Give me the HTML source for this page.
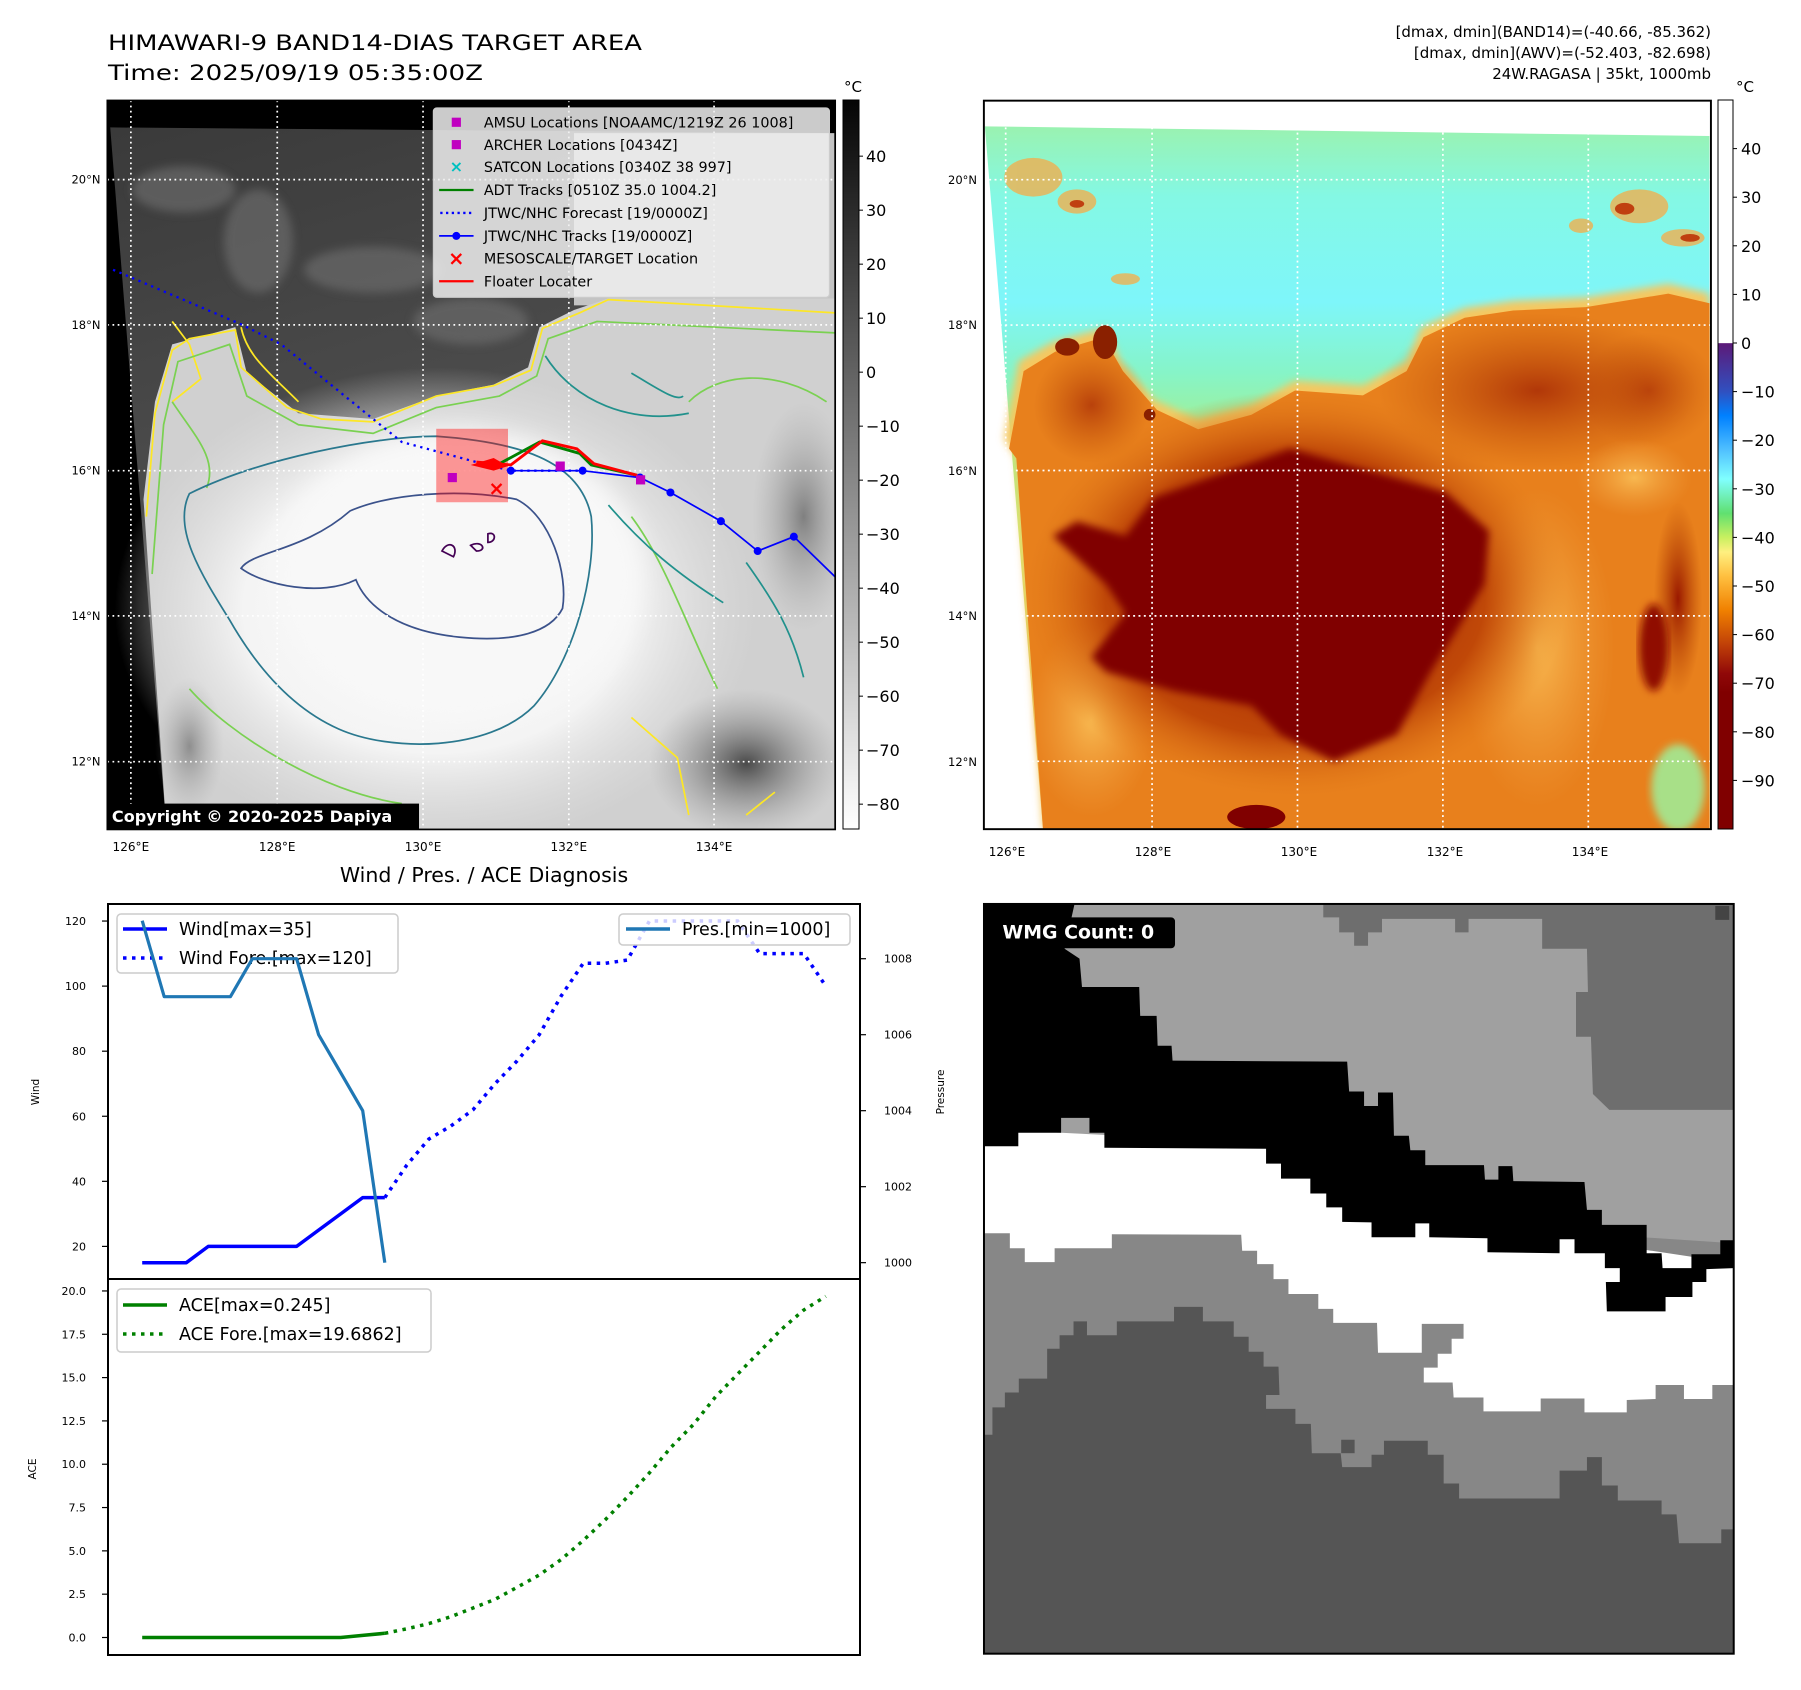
<!DOCTYPE html>
<html><head><meta charset="utf-8"><style>
html,body{margin:0;padding:0;background:#fff;}
svg{display:block;font-family:"DejaVu Sans","Liberation Sans",sans-serif;}
</style></head><body>
<svg id="root" width="1801" height="1690" viewBox="0 0 1801 1690" xmlns="http://www.w3.org/2000/svg">
<defs>
<linearGradient id="cb1" x1="0" y1="0" x2="0" y2="1"><stop offset="0" stop-color="#050505"/><stop offset="1" stop-color="#ffffff"/></linearGradient>
<linearGradient id="cb2" x1="0" y1="0" x2="0" y2="1">
<stop offset="0" stop-color="#ffffff"/><stop offset="0.333" stop-color="#ffffff"/>
<stop offset="0.334" stop-color="#5c1a78"/><stop offset="0.4" stop-color="#3050c0"/>
<stop offset="0.433" stop-color="#0080ff"/><stop offset="0.48" stop-color="#50c0ff"/>
<stop offset="0.52" stop-color="#80ffff"/><stop offset="0.567" stop-color="#60e070"/>
<stop offset="0.6" stop-color="#c8f060"/><stop offset="0.62" stop-color="#fff080"/>
<stop offset="0.653" stop-color="#ffc040"/><stop offset="0.7" stop-color="#f08000"/>
<stop offset="0.747" stop-color="#c04008"/><stop offset="0.787" stop-color="#900808"/>
<stop offset="0.813" stop-color="#800000"/><stop offset="1" stop-color="#800000"/></linearGradient>
<linearGradient id="m1top" x1="0" y1="0" x2="0.3" y2="1"><stop offset="0" stop-color="#3a3a3a"/><stop offset="0.5" stop-color="#4c4c4c"/><stop offset="1" stop-color="#6a6a6a"/></linearGradient>
<radialGradient id="m1core" cx="0.5" cy="0.5" r="0.5"><stop offset="0" stop-color="#fdfdfd"/><stop offset="0.6" stop-color="#f4f4f4"/><stop offset="1" stop-color="#e0e0e0" stop-opacity="0"/></radialGradient>
<radialGradient id="m1dark" cx="0.5" cy="0.5" r="0.5"><stop offset="0" stop-color="#4a4a4a"/><stop offset="1" stop-color="#9a9a9a" stop-opacity="0"/></radialGradient>
<linearGradient id="m2top" x1="0" y1="0" x2="0" y2="1"><stop offset="0" stop-color="#9af2b0"/><stop offset="0.1" stop-color="#84f8e4"/><stop offset="0.25" stop-color="#7ef6fa"/><stop offset="0.35" stop-color="#86f4c8"/><stop offset="0.45" stop-color="#a6f08c"/><stop offset="0.6" stop-color="#d8e870"/><stop offset="1" stop-color="#e8a040"/></linearGradient>
<radialGradient id="m2halo" cx="0.5" cy="0.5" r="0.5"><stop offset="0" stop-color="#a02000"/><stop offset="0.7" stop-color="#c04808"/><stop offset="1" stop-color="#e07818" stop-opacity="0"/></radialGradient>
<radialGradient id="m2light" cx="0.5" cy="0.5" r="0.5"><stop offset="0" stop-color="#f8b850"/><stop offset="1" stop-color="#f0a040" stop-opacity="0"/></radialGradient>
<radialGradient id="m2dk" cx="0.5" cy="0.5" r="0.5"><stop offset="0" stop-color="#9a1800"/><stop offset="1" stop-color="#b04000" stop-opacity="0"/></radialGradient>
<filter id="blur8"><feGaussianBlur stdDeviation="8"/></filter>
<filter id="blur20"><feGaussianBlur stdDeviation="20"/></filter>
<clipPath id="clip1"><rect x="187" y="175" width="1268" height="1270"/></clipPath>
<clipPath id="clip2"><rect x="8" y="22" width="1500" height="1503"/></clipPath>
</defs>

<text x="108" y="50" font-size="21.5" textLength="534" lengthAdjust="spacingAndGlyphs">HIMAWARI-9 BAND14-DIAS TARGET AREA</text>
<text x="108" y="80" font-size="21.5" textLength="375" lengthAdjust="spacingAndGlyphs">Time: 2025/09/19 05:35:00Z</text>
<text x="1711" y="37" font-size="15" text-anchor="end">[dmax, dmin](BAND14)=(-40.66, -85.362)</text>
<text x="1711" y="58" font-size="15" text-anchor="end">[dmax, dmin](AWV)=(-52.403, -82.698)</text>
<text x="1711" y="79" font-size="15" text-anchor="end">24W.RAGASA | 35kt, 1000mb</text>

<g transform="scale(0.574)">
<g clip-path="url(#clip1)">
<rect x="187" y="175" width="1268" height="1270" fill="#000"/>
<polygon points="192,222 1455,232 1455,1445 290,1445" fill="url(#m1top)"/>
<g fill="#6a6a6a" opacity="0.7" filter="url(#blur8)"><ellipse cx="320" cy="330" rx="90" ry="40"/><ellipse cx="450" cy="420" rx="60" ry="90"/><ellipse cx="650" cy="470" rx="120" ry="40"/><ellipse cx="820" cy="560" rx="100" ry="40"/></g>
<rect x="1000" y="232" width="455" height="300" fill="#c4c4c4"/>
<path d="M250,870 L270,700 L300,600 L410,570 L430,650 L520,720 L650,730 L760,690 L860,670 L920,640 L940,570 L1000,540 L1060,520 L1455,520 L1455,1445 L290,1445 Z" fill="#d0d0d0"/>
<ellipse cx="760" cy="1060" rx="560" ry="420" fill="url(#m1core)"/>
<ellipse cx="800" cy="1000" rx="320" ry="250" fill="#f8f8f8" filter="url(#blur20)"/>
<ellipse cx="1300" cy="1330" rx="170" ry="130" fill="url(#m1dark)"/>
<ellipse cx="1400" cy="900" rx="90" ry="200" fill="url(#m1dark)" opacity="0.6"/>
<ellipse cx="330" cy="1300" rx="60" ry="120" fill="url(#m1dark)" opacity="0.5"/>
<g fill="none" stroke-width="3">
<path d="M255,900 L270,720 L300,610 L330,590 L410,575 L420,640 L500,710 L560,730 L650,735 L760,690 L860,672 L925,645 L945,572 L1010,545 L1060,522 L1455,545" stroke="#fde725"/>
<path d="M300,560 L330,600 L350,660 L300,700 M420,570 C430,620 470,650 520,700 M1100,1250 L1180,1320 L1200,1420 M1350,1380 L1300,1420" stroke="#fde725"/>
<path d="M265,1000 L285,740 L310,630 L400,600 L430,690 L520,740 L650,755 L760,710 L870,690 L935,655 L955,590 L1040,560 L1455,580" stroke="#7ad151"/>
<path d="M330,1200 C400,1280 560,1380 700,1400 M1100,900 C1160,980 1200,1100 1250,1200 M1200,700 C1250,650 1350,640 1440,700 M300,700 C340,760 380,800 360,850" stroke="#7ad151"/>
<path d="M330,860 C450,800 650,760 760,760 C900,770 1010,800 1030,900 C1040,1000 1000,1150 930,1230 C850,1310 680,1310 590,1270 C500,1230 440,1150 400,1080 C350,1000 300,920 330,860 Z" stroke="#2a788e"/>
<path d="M950,620 C1000,700 1100,740 1200,720 M1060,880 C1120,950 1180,1000 1260,1050 M1100,650 C1150,680 1180,700 1190,690 M1300,980 C1350,1050 1380,1100 1400,1180" stroke="#21918c"/>
<path d="M610,890 C680,860 800,850 900,870 C960,900 990,1000 980,1060 C960,1100 900,1120 800,1110 C700,1100 640,1060 620,1010 C560,1040 460,1020 420,990 C440,960 530,960 610,890 Z" stroke="#3b528b"/>
<path d="M770,960 C780,940 800,950 790,970 Z M820,950 C840,940 850,960 830,960 Z M850,930 C865,925 865,945 850,945 Z" stroke="#440154"/>
</g>
<g stroke="#fff" stroke-width="3" stroke-dasharray="3,6">
<line x1="228" y1="175" x2="228" y2="1445"/><line x1="483" y1="175" x2="483" y2="1445"/><line x1="737" y1="175" x2="737" y2="1445"/><line x1="991" y1="175" x2="991" y2="1445"/><line x1="1244" y1="175" x2="1244" y2="1445"/>
<line x1="187" y1="313" x2="1455" y2="313"/><line x1="187" y1="566" x2="1455" y2="566"/><line x1="187" y1="820" x2="1455" y2="820"/><line x1="187" y1="1073" x2="1455" y2="1073"/><line x1="187" y1="1327" x2="1455" y2="1327"/>
</g>
<rect x="760" y="747" width="125" height="128" fill="rgba(255,0,0,0.4)"/>
<polyline points="197,470 420,565 490,600 650,730 700,770 830,805 890,820 1015,820" fill="none" stroke="#0000ff" stroke-width="4" stroke-dasharray="4,8"/>
<polyline points="870,808 940,770 1010,790 1030,810 1110,828" fill="none" stroke="#008000" stroke-width="5"/>
<polyline points="890,820 1015,820 1115,832 1168,858 1256,908 1320,960 1383,935 1455,1005" fill="none" stroke="#0000ff" stroke-width="3"/>
<g fill="#0000ff"><circle cx="890" cy="820" r="7"/><circle cx="1015" cy="820" r="7"/><circle cx="1115" cy="832" r="7"/><circle cx="1168" cy="858" r="7"/><circle cx="1256" cy="908" r="7"/><circle cx="1320" cy="960" r="7"/><circle cx="1383" cy="935" r="7"/></g>
<polyline points="830,805 890,810 945,768 1005,782 1035,808 1110,828" fill="none" stroke="#ff0000" stroke-width="5"/>
<polygon points="820,810 860,798 885,812 860,820" fill="#ff0000"/>
<g fill="#c000c0"><rect x="780" y="824" width="16" height="16"/><rect x="968" y="804" width="16" height="16"/><rect x="1108" y="828" width="16" height="16"/></g>
<text x="865" y="862" font-size="34" font-weight="bold" fill="#ff0000" text-anchor="middle">×</text>
<g>
<rect x="755" y="188" width="690" height="330" rx="6" fill="rgba(238,238,238,0.85)" stroke="#cccccc" stroke-width="2"/>
<g font-size="25">
<rect x="787" y="205" width="16" height="16" fill="#c000c0"/><text x="843" y="222">AMSU Locations [NOAAMC/1219Z 26 1008]</text>
<rect x="787" y="244" width="16" height="16" fill="#c000c0"/><text x="843" y="261">ARCHER Locations [0434Z]</text>
<text x="795" y="300" fill="#00c0c0" font-size="28" text-anchor="middle" font-weight="bold">×</text><text x="843" y="300">SATCON Locations [0340Z 38 997]</text>
<line x1="765" y1="331" x2="825" y2="331" stroke="#008000" stroke-width="4"/><text x="843" y="340">ADT Tracks [0510Z 35.0 1004.2]</text>
<line x1="767" y1="371" x2="825" y2="371" stroke="#0000ff" stroke-width="4" stroke-dasharray="4,6"/><text x="843" y="380">JTWC/NHC Forecast [19/0000Z]</text>
<line x1="765" y1="411" x2="825" y2="411" stroke="#0000ff" stroke-width="3"/><circle cx="795" cy="411" r="7" fill="#0000ff"/><text x="843" y="420">JTWC/NHC Tracks [19/0000Z]</text>
<text x="795" y="462" fill="#ff0000" font-size="34" text-anchor="middle" font-weight="bold">×</text><text x="843" y="459">MESOSCALE/TARGET Location</text>
<line x1="765" y1="490" x2="825" y2="490" stroke="#ff0000" stroke-width="4"/><text x="843" y="499">Floater Locater</text>
</g></g>
<rect x="187" y="1400" width="543" height="45" fill="#000"/>
<text x="195" y="1432" font-size="28" font-weight="bold" fill="#fff">Copyright © 2020-2025 Dapiya</text>
</g>
<rect x="187" y="175" width="1268" height="1270" fill="none" stroke="#000" stroke-width="3"/>
<g font-size="20" text-anchor="end">
<text x="175" y="320">20°N</text><text x="175" y="573">18°N</text><text x="175" y="827">16°N</text><text x="175" y="1080">14°N</text><text x="175" y="1334">12°N</text></g>
<g font-size="21" text-anchor="middle">
<text x="228" y="1483">126°E</text><text x="483" y="1483">128°E</text><text x="737" y="1483">130°E</text><text x="991" y="1483">132°E</text><text x="1244" y="1483">134°E</text></g>
</g>

<rect x="843" y="100" width="16" height="729" fill="url(#cb1)" stroke="#000" stroke-width="1"/>
<text x="853" y="92" font-size="15" text-anchor="middle">°C</text>
<g id="cb1ticks" font-size="16"></g>

<g transform="translate(980,90) scale(0.4847)">
<g clip-path="url(#clip2)">
<rect x="8" y="22" width="1500" height="1503" fill="#fff"/>
<polygon points="10,75 1505,95 1505,1525 130,1525" fill="url(#m2top)"/>
<g fill="#f0b050" opacity="0.8"><ellipse cx="110" cy="180" rx="60" ry="40"/><ellipse cx="200" cy="230" rx="40" ry="25"/><ellipse cx="1360" cy="240" rx="60" ry="35"/><ellipse cx="1450" cy="305" rx="45" ry="18"/><ellipse cx="1240" cy="280" rx="25" ry="15"/><ellipse cx="300" cy="390" rx="30" ry="12"/></g>
<g fill="#c04010"><ellipse cx="1330" cy="245" rx="20" ry="12"/><ellipse cx="1465" cy="305" rx="20" ry="8"/><ellipse cx="200" cy="235" rx="15" ry="8"/></g>
<path d="M50,720 L80,560 L150,520 L260,490 L290,560 L360,640 L450,680 L560,650 L650,600 L790,610 L880,560 L910,490 L1000,450 L1100,435 L1250,428 L1360,410 L1420,400 L1505,420 L1505,1525 L130,1525 L75,760 Z" fill="#f5c860" filter="url(#blur8)"/>
<path d="M60,740 L90,580 L155,540 L255,510 L295,580 L365,660 L450,700 L560,670 L650,620 L790,630 L880,580 L915,510 L1000,470 L1100,455 L1250,448 L1360,430 L1420,420 L1505,440 L1505,1525 L130,1525 L75,760 Z" fill="#e8801c"/>
<ellipse cx="1150" cy="620" rx="330" ry="160" fill="url(#m2dk)" opacity="0.7"/>
<ellipse cx="1380" cy="620" rx="140" ry="120" fill="url(#m2dk)" opacity="0.5"/>
<ellipse cx="230" cy="650" rx="120" ry="120" fill="url(#m2dk)" opacity="0.6"/>
<ellipse cx="230" cy="1300" rx="130" ry="200" fill="url(#m2light)"/>
<ellipse cx="1150" cy="1150" rx="160" ry="330" fill="url(#m2light)"/>
<ellipse cx="1350" cy="800" rx="120" ry="80" fill="url(#m2light)"/>
<ellipse cx="1440" cy="1440" rx="55" ry="90" fill="#a8e088" filter="url(#blur8)"/>
<ellipse cx="1440" cy="1050" rx="50" ry="200" fill="url(#m2dk)"/>
<ellipse cx="1390" cy="1150" rx="30" ry="90" fill="#901000" filter="url(#blur8)"/>
<ellipse cx="650" cy="1040" rx="560" ry="420" fill="url(#m2halo)"/>
<path transform="translate(0,40)" d="M360,800 L500,750 L640,700 L820,750 L960,790 L1050,870 L1040,980 L980,1080 L930,1160 L860,1290 L730,1345 L620,1290 L560,1230 L400,1200 L260,1160 L230,1130 L300,1040 L260,980 L150,880 L200,850 L300,880 Z" fill="#800000" filter="url(#blur8)"/>
<ellipse cx="570" cy="1500" rx="60" ry="25" fill="#800000"/>
<g fill="#8a2000"><ellipse cx="180" cy="530" rx="25" ry="18"/><ellipse cx="258" cy="520" rx="25" ry="35"/><ellipse cx="350" cy="670" rx="12" ry="12"/></g>
<g stroke="#fff" stroke-width="3.5" stroke-dasharray="4,7">
<line x1="53" y1="22" x2="53" y2="1525"/><line x1="355" y1="22" x2="355" y2="1525"/><line x1="655" y1="22" x2="655" y2="1525"/><line x1="955" y1="22" x2="955" y2="1525"/><line x1="1255" y1="22" x2="1255" y2="1525"/>
<line x1="8" y1="185" x2="1508" y2="185"/><line x1="8" y1="485" x2="1508" y2="485"/><line x1="8" y1="785" x2="1508" y2="785"/><line x1="8" y1="1085" x2="1508" y2="1085"/><line x1="8" y1="1385" x2="1508" y2="1385"/>
</g>
</g>
<rect x="8" y="22" width="1500" height="1503" fill="none" stroke="#000" stroke-width="4"/>
</g>
<g font-size="11.5" text-anchor="end">
<text x="977" y="184">20°N</text><text x="977" y="329">18°N</text><text x="977" y="475">16°N</text><text x="977" y="620">14°N</text><text x="977" y="766">12°N</text></g>
<g font-size="12" text-anchor="middle">
<text x="1007" y="856">126°E</text><text x="1153" y="856">128°E</text><text x="1299" y="856">130°E</text><text x="1445" y="856">132°E</text><text x="1590" y="856">134°E</text></g>

<rect x="1718" y="100" width="15" height="729" fill="url(#cb2)" stroke="#000" stroke-width="1"/>
<text x="1745" y="92" font-size="15" text-anchor="middle">°C</text>
<g id="cb2ticks" font-size="16"></g>

<text x="484" y="882" font-size="20.5" text-anchor="middle">Wind / Pres. / ACE Diagnosis</text>
<g id="windChart"></g>
<g id="aceChart"></g>

<g transform="translate(980,895) scale(0.4975)">
<rect x="8" y="18" width="1507" height="1507" fill="#a0a0a0"/>
<polygon points="690,18 1515,18 1515,432 1265,432 1232,400 1228,285 1198,285 1198,195 1222,195 1220,108 1130,108 1130,48 982,48 982,75 955,75 955,48 808,48 808,75 780,75 780,102 752,102 752,75 722,75 722,45 690,45" fill="#6e6e6e"/>
<rect x="1478" y="22" width="28" height="28" fill="#444"/>
<polygon points="8,600 1515,700 1515,1525 8,1525" fill="#878787"/>
<polygon points="8,470 600,500 1250,700 1515,740 1515,985 1472,985 1472,1013 1415,1013 1415,985 1358,985 1358,1013 1300,1015 1300,1040 1215,1040 1215,1012 1127,1012 1127,1038 1012,1038 1012,1010 952,1010 950,980 892,980 892,950 920,950 920,922 948,922 948,892 972,892 972,862 888,862 888,920 800,920 798,860 710,860 710,832 680,832 680,802 620,802 620,772 590,772 590,742 557,742 557,715 527,715 525,683 265,682 265,710 150,710 150,738 90,738 90,710 60,710 60,680 8,680" fill="#fff"/>
<polygon points="8,18 190,18 170,108 200,128 205,185 320,185 322,243 355,243 357,303 385,303 387,333 738,335 742,395 772,395 772,424 800,424 800,397 830,397 832,484 862,484 865,513 895,513 895,543 1013,543 1015,572 1042,572 1042,545 1070,545 1072,575 1215,577 1220,633 1250,633 1250,663 1340,663 1340,720 1370,720 1372,750 1430,750 1430,722 1488,722 1488,694 1515,694 1515,750 1460,752 1460,778 1432,778 1432,808 1378,808 1378,837 1260,837 1258,778 1286,778 1286,750 1256,750 1256,720 1195,720 1195,692 1165,692 1165,720 1020,718 1020,690 903,688 903,660 875,660 875,688 787,688 787,658 728,657 728,628 696,628 696,600 664,600 664,570 605,570 605,540 575,540 575,510 250,508 250,478 220,478 220,448 163,448 163,478 77,478 77,505 8,505" fill="#000"/>
<polygon points="8,1085 25,1085 25,1030 50,1030 50,1000 78,1000 78,972 135,972 135,912 160,912 160,885 188,885 188,857 215,857 215,885 275,885 275,857 390,857 390,828 448,828 448,857 510,857 510,888 540,888 540,918 570,918 570,948 600,948 602,1005 575,1005 575,1033 634,1033 634,1063 665,1063 667,1122 725,1122 728,1150 787,1150 787,1125 812,1125 812,1097 900,1097 900,1125 932,1125 932,1183 963,1183 963,1213 1165,1213 1165,1157 1220,1157 1220,1130 1250,1130 1250,1187 1282,1187 1282,1217 1370,1217 1370,1245 1400,1245 1405,1303 1490,1303 1490,1275 1515,1275 1515,1525 8,1525" fill="#555555"/>
<rect x="726" y="1095" width="27" height="27" fill="#555"/>
<rect x="32" y="45" width="360" height="62" rx="8" fill="#000"/>
<text x="45" y="87" font-size="38" font-weight="bold" fill="#fff">WMG Count: 0</text>
<rect x="8" y="18" width="1507" height="1507" fill="none" stroke="#000" stroke-width="4"/>
</g>
</svg>
<script>
const timeIdx = [0,1,2,3,4,5,6,7,8,9,10,11,12,13,14,15,16,17,18,19,20,21,22,23,24,25,26,27,28,29,30,31];
const windObs = [15,15,15,20,20,20,20,20,25,30,35,35];
const windFore = [35,45,53,57,62,70,77,85,97,107,107,108,120,120,120,120,120,110,110,110,100];
const presObs = [1009,1007,1007,1007,1007,1008,1008,1008,1006,1005,1004,1000];
const aceObs = [0,0,0,0,0,0,0,0,0,0,0.12,0.245];
const aceFore = [0.245,0.5,0.8,1.2,1.7,2.2,2.9,3.6,4.5,5.6,6.8,8.1,9.5,11.0,12.3,13.9,15.2,16.5,17.8,18.9,19.69];
const foreStart = 11;
const windTicks = [20,40,60,80,100,120];
const presTicks = [1000,1002,1004,1006,1008];
const aceTicks = [0,2.5,5,7.5,10,12.5,15,17.5,20];
const cb1Ticks = [40,30,20,10,0,-10,-20,-30,-40,-50,-60,-70,-80];
const cb2Ticks = [40,30,20,10,0,-10,-20,-30,-40,-50,-60,-70,-80,-90];

const NS='http://www.w3.org/2000/svg';
function mk(tag, attrs, parent){const e=document.createElementNS(NS,tag);for(const k in attrs)e.setAttribute(k,attrs[k]);parent.appendChild(e);return e;}
function fmt(v){return (v<0?'\u2212':'')+Math.abs(v);}

const cbTop=100, cbBot=829;
const cb1Max=50.4, cb1Min=-84.6, cb2Max=50, cb2Min=-100;
function cbY(v,mx,mn){return cbTop+(mx-v)/(mx-mn)*(cbBot-cbTop);}
const cb1g=document.getElementById('cb1ticks');
cb1Ticks.forEach(v=>{const y=cbY(v,cb1Max,cb1Min);
 mk('line',{x1:859,y1:y,x2:863,y2:y,stroke:'#000'},cb1g);
 const t=mk('text',{x:866,y:y+6},cb1g);t.textContent=fmt(v);
 
 });
const cb2g=document.getElementById('cb2ticks');
cb2Ticks.forEach(v=>{const y=cbY(v,cb2Max,cb2Min);
 mk('line',{x1:1733,y1:y,x2:1737,y2:y,stroke:'#000'},cb2g);
 const t=mk('text',{x:1741,y:y+6},cb2g);t.textContent=fmt(v);
 
 });

const L=108,R=860,T1=904,B1=1279,T2=1279,B2=1655;
const xMin=-1.55,xMax=32.55;
const xS=i=>L+(i-xMin)/(xMax-xMin)*(R-L);
const wMin=9.98,wMax=125.24, pMin=999.57,pMax=1009.44, aMin=-1.01,aMax=20.69;
const wY=v=>B1-(v-wMin)/(wMax-wMin)*(B1-T1);
const pY=v=>B1-(v-pMin)/(pMax-pMin)*(B1-T1);
const aY=v=>B2-(v-aMin)/(aMax-aMin)*(B2-T2);
function pts(arr,off,yf){return arr.map((v,i)=>xS(timeIdx[i+off]).toFixed(1)+','+yf(v).toFixed(1)).join(' ');}

const wg=document.getElementById('windChart');
windTicks.forEach(v=>{const y=wY(v);
 mk('line',{x1:L-6,y1:y,x2:L,y2:y,stroke:'#000','stroke-width':1.2},wg);
 const t=mk('text',{x:L-22,y:y+4,'font-size':11,'text-anchor':'end'},wg);t.textContent=v;
 
 });
presTicks.forEach(v=>{const y=pY(v);
 mk('line',{x1:R,y1:y,x2:R+6,y2:y,stroke:'#000','stroke-width':1.2},wg);
 const t=mk('text',{x:R+24,y:y+4,'font-size':11},wg);t.textContent=v;
 
 });
let yl=mk('text',{x:0,y:0,'font-size':10.5,'text-anchor':'middle',transform:'translate(39,1092) rotate(-90)'},wg);yl.textContent='Wind';


let pl=mk('text',{x:0,y:0,'font-size':10.5,'text-anchor':'middle',transform:'translate(944,1092) rotate(-90)'},wg);pl.textContent='Pressure';



let l1=mk('polyline',{points:pts(windObs,0,wY),fill:'none',stroke:'#0000ff','stroke-width':3.5,'stroke-linejoin':'round'},wg);


let l2=mk('polyline',{points:pts(windFore,foreStart,wY),fill:'none',stroke:'#0000ff','stroke-width':3.5,'stroke-dasharray':'3.5,5.5'},wg);


let wl=mk('rect',{x:117,y:914,width:281,height:59,rx:4,fill:'rgba(255,255,255,0.8)',stroke:'#cccccc','stroke-width':1.5},wg);


mk('line',{x1:123,y1:929,x2:167,y2:929,stroke:'#0000ff','stroke-width':3.5},wg);
mk('line',{x1:123,y1:958,x2:167,y2:958,stroke:'#0000ff','stroke-width':3.5,'stroke-dasharray':'3.5,5.5'},wg);
let t1=mk('text',{x:179,y:935,'font-size':17.5},wg);t1.textContent='Wind[max=35]';


let t2=mk('text',{x:179,y:964,'font-size':17.5},wg);t2.textContent='Wind Fore.[max=120]';


let l3=mk('polyline',{points:pts(presObs,0,pY),fill:'none',stroke:'#1f77b4','stroke-width':3.2,'stroke-linejoin':'round'},wg);


let pleg=mk('rect',{x:619,y:914,width:231,height:31,rx:4,fill:'rgba(255,255,255,0.8)',stroke:'#cccccc','stroke-width':1.5},wg);


mk('line',{x1:626,y1:929,x2:670,y2:929,stroke:'#1f77b4','stroke-width':3.5},wg);
let t3=mk('text',{x:682,y:935,'font-size':17.5},wg);t3.textContent='Pres.[min=1000]';


mk('rect',{x:L,y:T1,width:R-L,height:B1-T1,fill:'none',stroke:'#000','stroke-width':2},wg);

const ag=document.getElementById('aceChart');
aceTicks.forEach(v=>{const y=aY(v);
 mk('line',{x1:L-6,y1:y,x2:L,y2:y,stroke:'#000','stroke-width':1.2},ag);
 const t=mk('text',{x:L-22,y:y+4,'font-size':11,'text-anchor':'end'},ag);t.textContent=v.toFixed(1);
 
 });
let al=mk('text',{x:0,y:0,'font-size':10.5,'text-anchor':'middle',transform:'translate(36,1469) rotate(-90)'},ag);al.textContent='ACE';


let l4=mk('polyline',{points:pts(aceObs,0,aY),fill:'none',stroke:'#008000','stroke-width':3.5},ag);


let l5=mk('polyline',{points:pts(aceFore,foreStart,aY),fill:'none',stroke:'#008000','stroke-width':3.5,'stroke-dasharray':'3.5,5.5'},ag);


let aleg=mk('rect',{x:117,y:1289,width:314,height:63,rx:4,fill:'rgba(255,255,255,0.8)',stroke:'#cccccc','stroke-width':1.5},ag);


mk('line',{x1:123,y1:1305,x2:167,y2:1305,stroke:'#008000','stroke-width':3.5},ag);
mk('line',{x1:123,y1:1334,x2:167,y2:1334,stroke:'#008000','stroke-width':3.5,'stroke-dasharray':'3.5,5.5'},ag);
let t4=mk('text',{x:179,y:1311,'font-size':17.5},ag);t4.textContent='ACE[max=0.245]';


let t5=mk('text',{x:179,y:1340,'font-size':17.5},ag);t5.textContent='ACE Fore.[max=19.6862]';


mk('rect',{x:L,y:T2,width:R-L,height:B2-T2,fill:'none',stroke:'#000','stroke-width':2},ag);
</script>
</body></html>
